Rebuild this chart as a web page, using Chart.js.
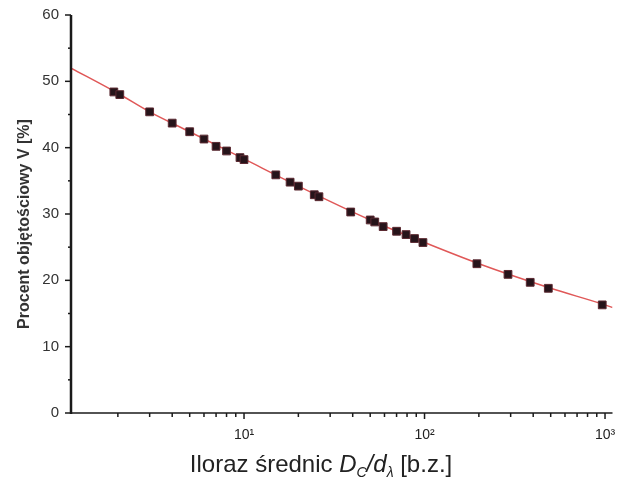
<!DOCTYPE html>
<html>
<head>
<meta charset="utf-8">
<script src="https://cdn.jsdelivr.net/npm/chart.js@4.4.1/dist/chart.umd.min.js"></script>
<style>
  html, body { margin: 0; padding: 0; background: #fff; }
</style>
</head>
<body>
<canvas id="c" width="619" height="480"></canvas>
<script>
// measured points: diameter ratio Dc/d (no unit) vs water volume percent V
var ratioX = [1.9, 2.05, 3, 4, 5, 6, 7, 8, 9.5, 10, 15, 18, 20, 24.5, 26, 39, 50, 53, 59, 70, 79, 88, 98, 195, 290, 385, 485, 965];
var volumePct = [48.4, 48.0, 45.4, 43.7, 42.4, 41.3, 40.2, 39.5, 38.5, 38.2, 35.9, 34.8, 34.2, 32.9, 32.6, 30.3, 29.1, 28.8, 28.1, 27.4, 26.9, 26.3, 25.7, 22.5, 20.9, 19.7, 18.8, 16.3];

// fitted curve
var fitX = [1.1, 2, 3, 5, 10, 20, 50, 100, 200, 500, 1000, 1100];
var fitY = [52.0, 48.2, 45.4, 42.4, 38.3, 34.2, 29.1, 25.7, 22.5, 18.8, 16.3, 15.9];

var yTicks = [0, 10, 20, 30, 40, 50, 60];
var xTicks = [10, 100, 1000];
var supers = { 1: '\u00b9', 2: '\u00b2', 3: '\u00b3' };

function pts(xs, ys) {
  var out = [];
  for (var i = 0; i < xs.length; i++) out.push({ x: xs[i], y: ys[i] });
  return out;
}

function line(ctx, x1, y1, x2, y2) {
  ctx.beginPath(); ctx.moveTo(x1, y1); ctx.lineTo(x2, y2); ctx.stroke();
}

// axis lines, major/minor ticks and both titles (x title needs sub-scripts)
var axisMarks = {
  id: 'axisMarks',
  afterDraw: function(chart) {
    var ctx = chart.ctx, a = chart.chartArea;
    var xs = chart.scales.x, ys = chart.scales.y;
    ctx.save();
    ctx.strokeStyle = '#1a1a1a';
    ctx.lineWidth = 1.5;
    for (var v = 0; v <= 60; v += 5) {
      var py = ys.getPixelForValue(v);
      line(ctx, a.left - (v % 10 === 0 ? 6 : 3), py, a.left, py);
    }
    for (var d = 1; d <= 1000; d *= 10) {
      for (var m = 1; m < 10; m++) {
        var val = d * m;
        if (val < xs.min || val > xs.max) continue;
        var px = xs.getPixelForValue(val);
        line(ctx, px, a.bottom, px, a.bottom + (m === 1 ? 6 : 4));
      }
    }
    ctx.lineWidth = 2.5;
    line(ctx, a.left, a.top, a.left, a.bottom + 1);
    ctx.lineWidth = 1.5;
    line(ctx, a.left, a.bottom, a.right, a.bottom);

    // y title
    ctx.save();
    ctx.translate(25, 224);
    ctx.rotate(-Math.PI / 2);
    ctx.font = 'bold 16px Arial';
    ctx.fillStyle = '#333';
    ctx.textAlign = 'center';
    ctx.textBaseline = 'middle';
    ctx.fillText('Procent obj\u0119to\u015bciowy V [%]', 0, 0);
    ctx.restore();

    // x title
    var parts = [
      { t: 'Iloraz \u015brednic ', f: '24px Arial', dy: 0 },
      { t: 'D', f: 'italic 24px Arial', dy: 0 },
      { t: 'C', f: 'italic 14px Arial', dy: 5 },
      { t: '/', f: 'italic 24px Arial', dy: 0 },
      { t: 'd', f: 'italic 24px Arial', dy: 0 },
      { t: '\u03bb', f: 'italic 14px Arial', dy: 5 },
      { t: ' [b.z.]', f: '24px Arial', dy: 0 }
    ];
    var total = 0;
    parts.forEach(function(p) { ctx.font = p.f; p.w = ctx.measureText(p.t).width; total += p.w; });
    var x = 321 - total / 2, base = 472;
    ctx.fillStyle = '#222';
    ctx.textBaseline = 'alphabetic';
    ctx.textAlign = 'left';
    parts.forEach(function(p) { ctx.font = p.f; ctx.fillText(p.t, x, base + p.dy); x += p.w; });
    ctx.restore();
  }
};

new Chart(document.getElementById('c'), {
  type: 'scatter',
  data: {
    datasets: [
      {
        label: 'dopasowanie',
        data: pts(fitX, fitY),
        showLine: true,
        borderColor: '#e05858',
        borderWidth: 1.5,
        pointRadius: 0,
        cubicInterpolationMode: 'monotone',
        order: 2
      },
      {
        label: 'pomiary',
        data: pts(ratioX, volumePct),
        pointStyle: 'rect',
        pointRadius: 5.5,
        backgroundColor: '#26141a',
        borderColor: '#5c2a32',
        borderWidth: 1,
        order: 1
      }
    ]
  },
  options: {
    responsive: false,
    animation: false,
    layout: { padding: { top: 15, right: 5, left: 0, bottom: 0 } },
    plugins: { legend: { display: false }, tooltip: { enabled: false } },
    scales: {
      x: {
        type: 'logarithmic',
        min: 1.1,
        max: 1100,
        grid: { display: false },
        border: { display: false },
        afterBuildTicks: function(scale) {
          scale.ticks = xTicks.map(function(v) { return { value: v }; });
        },
        afterFit: function(scale) {
          scale.height = 67;
          scale.paddingLeft = 0;
          scale.paddingRight = 0;
        },
        ticks: {
          autoSkip: false,
          maxRotation: 0,
          padding: 6,
          color: '#222',
          font: { family: 'Arial', size: 14 },
          callback: function(v) { return '10' + supers[Math.round(Math.log10(v))]; }
        }
      },
      y: {
        min: 0,
        max: 60,
        grid: { display: false },
        border: { display: false },
        afterBuildTicks: function(scale) {
          scale.ticks = yTicks.map(function(v) { return { value: v }; });
        },
        afterFit: function(scale) {
          scale.width = 71;
          scale.paddingTop = 0;
          scale.paddingBottom = 0;
        },
        ticks: {
          padding: 4,
          color: '#333',
          font: { family: 'Arial', size: 15 }
        }
      }
    }
  },
  plugins: [axisMarks]
});
</script>
</body>
</html>
